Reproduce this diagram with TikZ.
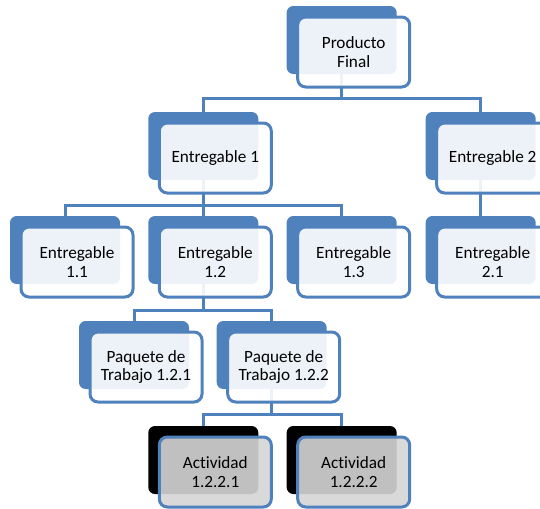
\documentclass[tikz,border=0pt]{standalone}
\usepackage{fontspec}
\setmainfont{Carlito}[Ligatures=NoCommon]
\usepackage{xcolor}
\definecolor{wbsblue}{RGB}{79,129,189}
\definecolor{wbsgray}{RGB}{213,213,213}
\usetikzlibrary{positioning, calc}

\tikzset{
  back/.style={fill=wbsblue, rounded corners=5pt, minimum width=82.5pt, minimum height=51pt, inner sep=0pt},
  front/.style={draw=wbsblue, line width=2.25pt, fill=white, fill opacity=0.9, text opacity=1,
                rounded corners=6pt, minimum width=84pt, minimum height=52.5pt, inner sep=0pt,
                align=center, font=\fontsize{12.9}{14}\selectfont, text=black},
  actback/.style={back, fill=black},
  actfront/.style={front, fill=wbsgray},
  link/.style={draw=wbsblue, line width=2.25pt},
}

\begin{document}
\begin{tikzpicture}[x=0.75pt, y=-0.75pt]
\clip (0,0) rectangle (540,508);

% --- back plates ---
\node[back] (pf-back) at (341.7,40) {};
\node[back] (e1-back) at (203.3,146) {};
\node[back] (e2-back) at (480.7,146) {};
\node[back] (e11-back) at (65,250) {};
\node[back] (e12-back) at (203.3,250) {};
\node[back] (e13-back) at (341.7,250) {};
\node[back] (e21-back) at (480.7,250) {};
\node[back] (p121-back) at (134,355) {};
\node[back] (p122-back) at (271.7,355) {};
\node[actback] (a1221-back) at (203.3,460) {};
\node[actback] (a1222-back) at (341.7,460) {};

% --- connectors ---
\draw[link] (pf-back.south) |- ($(e1-back.north)+(0,-13)$) -- (e1-back.north);
\draw[link] (pf-back.south) |- ($(e2-back.north)+(0,-13)$) -- (e2-back.north);
\draw[link] (e1-back.south) |- ($(e11-back.north)+(0,-10)$) -- (e11-back.north);
\draw[link] (e1-back.south) -- (e12-back.north);
\draw[link] (e1-back.south) |- ($(e13-back.north)+(0,-10)$) -- (e13-back.north);
\draw[link] (e2-back.south) -- (e21-back.north);
\draw[link] (e12-back.south) |- ($(p121-back.north)+(0,-10)$) -- (p121-back.north);
\draw[link] (e12-back.south) |- ($(p122-back.north)+(0,-10)$) -- (p122-back.north);
\draw[link] (p122-back.south) |- ($(a1221-back.north)+(0,-11)$) -- (a1221-back.north);
\draw[link] (p122-back.south) |- ($(a1222-back.north)+(0,-11)$) -- (a1222-back.north);

% --- front cards ---
\node[front] (pf) at ([shift={(12,12)}]pf-back.center) {Producto\\Final};
\node[front] (e1) at ([shift={(12,12)}]e1-back.center) {Entregable 1};
\node[front] (e2) at ([shift={(12,12)}]e2-back.center) {Entregable 2};
\node[front] (e11) at ([shift={(12,12)}]e11-back.center) {Entregable\\1.1};
\node[front] (e12) at ([shift={(12,12)}]e12-back.center) {Entregable\\1.2};
\node[front] (e13) at ([shift={(12,12)}]e13-back.center) {Entregable\\1.3};
\node[front] (e21) at ([shift={(12,12)}]e21-back.center) {Entregable\\2.1};
\node[front] (p121) at ([shift={(12,12)}]p121-back.center) {Paquete de\\Trabajo 1.2.1};
\node[front] (p122) at ([shift={(12,12)}]p122-back.center) {Paquete de\\Trabajo 1.2.2};
\node[actfront] (a1221) at ([shift={(12,12)}]a1221-back.center) {Actividad\\1.2.2.1};
\node[actfront] (a1222) at ([shift={(12,12)}]a1222-back.center) {Actividad\\1.2.2.2};

\end{tikzpicture}
\end{document}
